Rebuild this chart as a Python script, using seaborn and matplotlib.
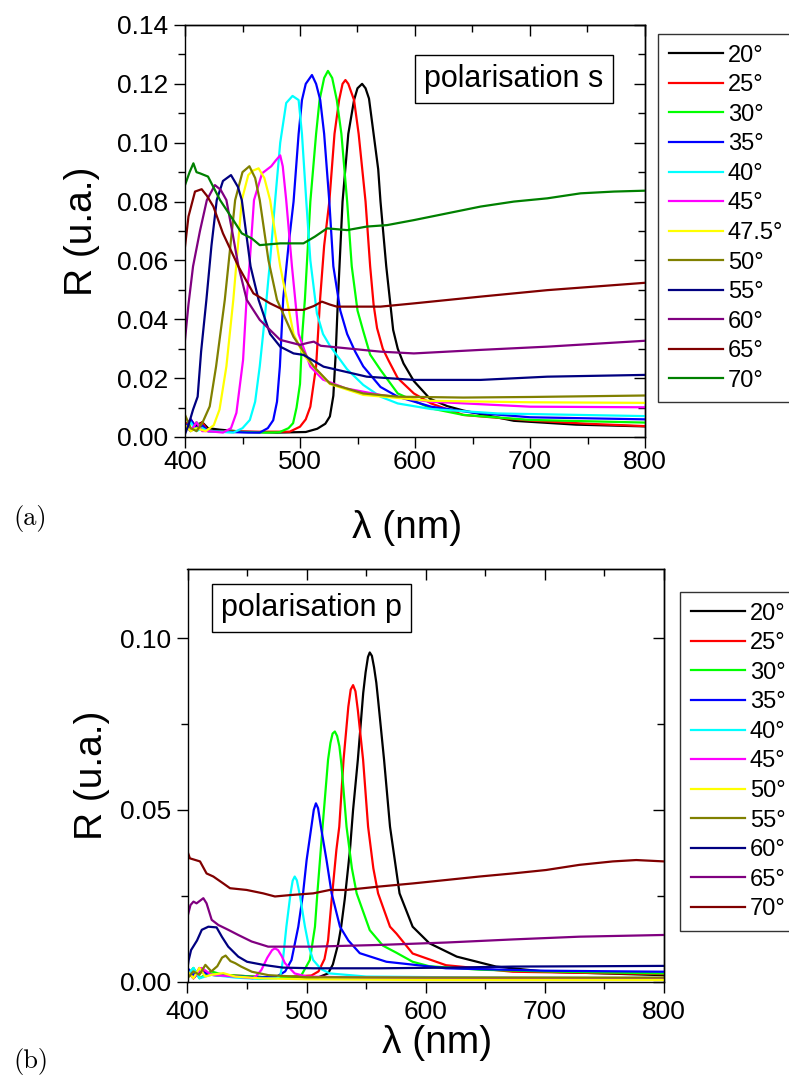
import matplotlib
matplotlib.use("Agg")
import matplotlib.pyplot as plt
import pandas as pd
import seaborn as sns
from matplotlib.ticker import MultipleLocator, FormatStrFormatter, NullFormatter

# ---------------- panel (a) : polarisation s ----------------
s_labels = ["20°", "25°", "30°", "35°", "40°", "45°", "47.5°", "50°", "55°", "60°", "65°", "70°"]
s_colors = ["#000000", "#ff0000", "#00ff00", "#0000ff", "#00ffff", "#ff00ff",
            "#ffff00", "#808000", "#000080", "#800080", "#800000", "#008000"]

s20_wl = [400, 405, 410, 415, 420, 430, 450, 480, 505, 515, 522, 526, 529, 531, 533, 537, 542, 547, 550, 554, 557, 560, 564, 568, 570, 575, 581, 585, 590, 599, 613, 628, 642, 686, 740, 800]
s20_R = [0.005, 0.002, 0.004, 0.005, 0.003, 0.0025, 0.0018, 0.0015, 0.0017, 0.0028, 0.0045, 0.007, 0.014, 0.028, 0.047, 0.080, 0.103, 0.1145, 0.1185, 0.120, 0.1185, 0.115, 0.103, 0.091, 0.080, 0.058, 0.0364, 0.030, 0.025, 0.019, 0.013, 0.0105, 0.009, 0.0055, 0.0042, 0.0036]

s25_wl = [400, 405, 410, 415, 420, 430, 460, 491, 500, 505, 509, 514, 517.5, 521, 525.5, 530, 534, 537, 539.5, 542, 547, 551, 557, 561, 564, 567, 572, 577, 585, 599, 614, 642, 700, 750, 800]
s25_R = [0.004, 0.006, 0.003, 0.005, 0.002, 0.002, 0.0018, 0.0018, 0.0035, 0.006, 0.0103, 0.024, 0.047, 0.065, 0.080, 0.103, 0.1145, 0.120, 0.1213, 0.120, 0.1145, 0.103, 0.080, 0.058, 0.045, 0.037, 0.030, 0.026, 0.020, 0.0148, 0.0114, 0.0075, 0.0056, 0.0045, 0.0037]

s30_wl = [400, 405, 410, 415, 420, 440, 470, 482, 490, 494, 497, 500, 502, 504.3, 509, 514, 517, 521, 524.3, 528, 532, 536, 541, 545, 550, 555, 561, 570, 585, 614, 642, 700, 800]
s30_R = [0.004, 0.002, 0.005, 0.003, 0.002, 0.0018, 0.0015, 0.0016, 0.003, 0.0047, 0.010, 0.018, 0.035, 0.047, 0.080, 0.103, 0.1145, 0.122, 0.1244, 0.122, 0.1145, 0.103, 0.080, 0.058, 0.043, 0.036, 0.028, 0.0228, 0.0148, 0.0097, 0.0075, 0.0058, 0.0049]

s35_wl = [400, 405, 410, 415, 420, 430, 455, 465, 472, 476.7, 480, 482.5, 485.4, 490, 494.4, 498.8, 501.7, 505, 510.4, 514, 517.6, 521, 525.5, 529, 535, 541, 548, 555, 570, 585, 614, 650, 700, 800]
s35_R = [0.003, 0.006, 0.003, 0.004, 0.002, 0.0018, 0.0015, 0.0015, 0.003, 0.0057, 0.012, 0.024, 0.047, 0.065, 0.080, 0.103, 0.1145, 0.120, 0.123, 0.120, 0.1145, 0.103, 0.080, 0.058, 0.043, 0.035, 0.029, 0.024, 0.017, 0.0137, 0.0103, 0.0083, 0.0067, 0.006]

s40_wl = [400, 405, 410, 415, 420, 442, 450, 456.4, 461, 465, 469.5, 474, 478.4, 482.8, 488, 493.5, 498.8, 501.7, 505.4, 509, 514.7, 520, 526, 541, 555, 570, 585, 614, 672, 800]
s40_R = [0.002, 0.005, 0.002, 0.003, 0.002, 0.0015, 0.003, 0.0058, 0.012, 0.024, 0.041, 0.060, 0.0805, 0.100, 0.1135, 0.1159, 0.1145, 0.103, 0.0805, 0.060, 0.042, 0.035, 0.031, 0.023, 0.0177, 0.0137, 0.0114, 0.0095, 0.008, 0.0071]

s45_wl = [400, 405, 410, 415, 420, 433, 440, 444.7, 450.5, 453.5, 456, 460, 467, 475, 479, 482.8, 485, 488, 493, 498.8, 509, 520, 540, 570, 613, 700, 800]
s45_R = [0.004, 0.002, 0.005, 0.002, 0.002, 0.0015, 0.003, 0.0082, 0.0262, 0.0466, 0.058, 0.0805, 0.0896, 0.092, 0.094, 0.0957, 0.092, 0.0805, 0.058, 0.035, 0.0239, 0.0195, 0.0165, 0.0143, 0.012, 0.0103, 0.0101]

s475_wl = [400, 405, 410, 418, 425, 430, 436, 442, 449.4, 455, 459, 464, 469, 474, 482.8, 494.4, 503, 511.8, 526, 555, 613, 700, 800]
s475_R = [0.004, 0.002, 0.003, 0.002, 0.004, 0.0093, 0.024, 0.0466, 0.0805, 0.089, 0.0905, 0.0913, 0.088, 0.0805, 0.058, 0.035, 0.028, 0.0239, 0.018, 0.0143, 0.0123, 0.0118, 0.0116]

s50_wl = [400, 405, 410, 415, 421.5, 427, 434.6, 443.6, 450, 456, 461, 465, 472.6, 480, 494.4, 511.8, 526, 555, 585, 642, 700, 800]
s50_R = [0.0075, 0.003, 0.002, 0.0047, 0.0104, 0.0239, 0.0466, 0.0805, 0.090, 0.092, 0.088, 0.0805, 0.060, 0.0466, 0.034, 0.024, 0.0182, 0.0148, 0.0137, 0.0134, 0.0136, 0.0141]

s55_wl = [400, 403, 407, 411, 414, 418.6, 423, 427.6, 433, 440, 446, 449.4, 457, 464, 474, 482.8, 494.4, 503, 520.5, 558, 599, 657, 715, 800]
s55_R = [0.001, 0.004, 0.0093, 0.0137, 0.029, 0.0466, 0.065, 0.0805, 0.087, 0.089, 0.085, 0.0805, 0.058, 0.0466, 0.035, 0.0307, 0.0284, 0.0279, 0.0239, 0.0205, 0.0194, 0.0194, 0.0205, 0.0211]

s60_wl = [400, 403, 407, 413, 419, 426, 431, 436, 441, 446.5, 453.7, 465, 482.8, 500, 507, 512, 518, 526, 570, 599, 657, 715, 800]
s60_R = [0.033, 0.045, 0.058, 0.070, 0.0805, 0.0856, 0.084, 0.0805, 0.070, 0.058, 0.0466, 0.0398, 0.033, 0.0313, 0.032, 0.0324, 0.031, 0.0307, 0.029, 0.0284, 0.0296, 0.0307, 0.0327]

s65_wl = [400, 403, 408.7, 414.5, 419, 424.7, 433, 446.5, 459.5, 474, 485.7, 503, 512, 519, 526, 532, 570, 599, 657, 715, 800]
s65_R = [0.0647, 0.0749, 0.0834, 0.0842, 0.082, 0.0783, 0.0692, 0.0579, 0.0488, 0.0454, 0.0432, 0.0432, 0.0445, 0.046, 0.045, 0.0443, 0.0443, 0.0454, 0.0477, 0.0499, 0.0524]

s70_wl = [400, 404, 407.3, 410, 413, 420, 430.5, 442, 449.4, 458, 465, 482.8, 503, 513, 523.5, 541, 558, 575.7, 599, 628, 657, 686, 715, 744, 773, 800]
s70_R = [0.0856, 0.090, 0.093, 0.090, 0.0896, 0.0885, 0.0805, 0.0737, 0.0692, 0.0675, 0.0652, 0.0658, 0.0658, 0.0681, 0.0709, 0.0703, 0.0715, 0.072, 0.0737, 0.076, 0.0783, 0.080, 0.0811, 0.0828, 0.0834, 0.0837]

# ---------------- panel (b) : polarisation p ----------------
p_labels = ["20°", "25°", "30°", "35°", "40°", "45°", "50°", "55°", "60°", "65°", "70°"]
p_colors = ["#000000", "#ff0000", "#00ff00", "#0000ff", "#00ffff", "#ff00ff",
            "#ffff00", "#808000", "#000080", "#800080", "#800000"]

p20_wl = [400, 405, 410, 420, 440, 480, 510, 518, 522, 526.5, 529, 532, 536.3, 539, 543, 547.5, 549.5, 551.5, 553, 554.8, 556.6, 558.5, 560, 565, 570, 578, 589, 603, 626, 659, 701, 800]
p20_R = [0.003, 0.001, 0.003, 0.002, 0.0015, 0.0012, 0.0013, 0.0024, 0.005, 0.011, 0.016, 0.024, 0.038, 0.050, 0.0646, 0.084, 0.090, 0.0945, 0.0958, 0.0948, 0.0915, 0.087, 0.082, 0.0646, 0.0451, 0.0257, 0.016, 0.0112, 0.0073, 0.0044, 0.0029, 0.0019]

p25_wl = [400, 405, 410, 420, 430, 470, 504, 510, 515, 518, 521, 525, 527.4, 531, 535, 537, 539, 541, 543, 547.4, 551.6, 556, 560, 564, 570, 575.4, 589, 617, 673, 785, 800]
p25_R = [0.003, 0.001, 0.004, 0.002, 0.002, 0.0012, 0.0018, 0.003, 0.0066, 0.012, 0.0238, 0.0384, 0.0451, 0.0646, 0.080, 0.085, 0.0863, 0.0845, 0.0790, 0.0646, 0.0451, 0.033, 0.0257, 0.0218, 0.016, 0.014, 0.0082, 0.0048, 0.0029, 0.0023, 0.0022]

p30_wl = [400, 405, 410, 420, 430, 470, 495, 502.7, 507, 509, 513.4, 518, 520, 521.8, 523.7, 525.6, 527.5, 529.3, 533.5, 538, 542, 553, 564, 575, 589, 603, 645, 700, 800]
p30_R = [0.002, 0.004, 0.001, 0.003, 0.002, 0.0012, 0.0015, 0.0063, 0.016, 0.0257, 0.0451, 0.0646, 0.0695, 0.0722, 0.0728, 0.0715, 0.0685, 0.0630, 0.0451, 0.033, 0.0257, 0.015, 0.0105, 0.0085, 0.0058, 0.0045, 0.0035, 0.003, 0.0024]

p35_wl = [400, 405, 410, 420, 460, 475, 482, 487.3, 493, 497, 500, 504, 506, 507.8, 509.6, 512.5, 516.7, 521, 528, 535, 544.6, 567, 617, 700, 800]
p35_R = [0.004, 0.002, 0.003, 0.002, 0.0012, 0.0015, 0.003, 0.0063, 0.016, 0.0257, 0.0354, 0.0451, 0.0500, 0.0519, 0.0505, 0.0440, 0.0354, 0.0257, 0.016, 0.012, 0.0083, 0.0058, 0.0039, 0.0032, 0.0029]

p40_wl = [400, 405, 410, 420, 440, 460, 475, 478, 480, 483, 486.5, 488.3, 490, 491.8, 494.4, 498.6, 502, 505.5, 512, 519.5, 550, 650, 800]
p40_R = [0.002, 0.004, 0.001, 0.002, 0.0012, 0.0008, 0.001, 0.0018, 0.006, 0.016, 0.0257, 0.0294, 0.0306, 0.0295, 0.0250, 0.016, 0.010, 0.0063, 0.0037, 0.0024, 0.0015, 0.0012, 0.001]

p45_wl = [400, 405, 412, 420, 440, 455, 458, 462, 467, 471, 473.4, 476, 479, 481.8, 490, 500, 550, 800]
p45_R = [0.003, 0.001, 0.004, 0.002, 0.0015, 0.001, 0.0018, 0.0034, 0.007, 0.0092, 0.0097, 0.0092, 0.0075, 0.0054, 0.0024, 0.0015, 0.0012, 0.001]

p50_wl = [400, 405, 410, 415, 420, 430, 440, 460, 500, 600, 800]
p50_R = [0.003, 0.001, 0.004, 0.0015, 0.002, 0.0025, 0.0015, 0.001, 0.0007, 0.0005, 0.0005]

p55_wl = [400, 405, 410, 415, 420, 425, 429, 432, 436, 440, 445, 454, 468, 500, 600, 800]
p55_R = [0.001, 0.003, 0.002, 0.0049, 0.003, 0.0045, 0.007, 0.0076, 0.006, 0.0054, 0.0044, 0.0029, 0.0019, 0.0013, 0.0012, 0.0012]

p60_wl = [400, 401, 403, 408, 412, 417.5, 424.4, 429, 434.2, 442.6, 450, 463.6, 480, 505.5, 561, 620, 673, 740, 800]
p60_R = [0.004, 0.0063, 0.0092, 0.012, 0.0151, 0.016, 0.0158, 0.013, 0.0102, 0.0073, 0.0058, 0.0049, 0.0041, 0.0039, 0.0039, 0.0041, 0.0044, 0.0045, 0.0046]

p65_wl = [400, 402.5, 405, 407.6, 413.3, 416, 420.3, 425.9, 434.2, 442.6, 453.8, 467.7, 481.7, 505.5, 561.4, 617.3, 673, 729, 800]
p65_R = [0.0189, 0.0223, 0.0233, 0.0228, 0.0243, 0.0228, 0.018, 0.0165, 0.0151, 0.0136, 0.0117, 0.0102, 0.0102, 0.0102, 0.0107, 0.0114, 0.0123, 0.0131, 0.0136]

p70_wl = [400, 402, 410.5, 416, 421.7, 430, 435.7, 449.6, 463.6, 473.4, 486, 505.5, 519.5, 533.5, 561.4, 589.4, 617.3, 645, 673, 701, 729, 757, 776.7, 800]
p70_R = [0.0379, 0.0359, 0.035, 0.0315, 0.0306, 0.0286, 0.0272, 0.0267, 0.0257, 0.0248, 0.0252, 0.0257, 0.0267, 0.0267, 0.0277, 0.0286, 0.0296, 0.0306, 0.0315, 0.0325, 0.034, 0.035, 0.0354, 0.035]


def long_frame(labels, wls, rs):
    parts = [pd.DataFrame({"wl": w, "R": r, "angle": lab}) for lab, w, r in zip(labels, wls, rs)]
    return pd.concat(parts, ignore_index=True)


df_s = long_frame(s_labels,
                  [s20_wl, s25_wl, s30_wl, s35_wl, s40_wl, s45_wl, s475_wl, s50_wl, s55_wl, s60_wl, s65_wl, s70_wl],
                  [s20_R, s25_R, s30_R, s35_R, s40_R, s45_R, s475_R, s50_R, s55_R, s60_R, s65_R, s70_R])
df_p = long_frame(p_labels,
                  [p20_wl, p25_wl, p30_wl, p35_wl, p40_wl, p45_wl, p50_wl, p55_wl, p60_wl, p65_wl, p70_wl],
                  [p20_R, p25_R, p30_R, p35_R, p40_R, p45_R, p50_R, p55_R, p60_R, p65_R, p70_R])

plt.rcParams["font.family"] = ["Liberation Sans", "DejaVu Sans"]
plt.rcParams["axes.linewidth"] = 1.0

W, H = 789, 1077
fig = plt.figure(figsize=(W / 100, H / 100), dpi=100)
ax1 = fig.add_axes([185 / W, 1 - 437 / H, 460 / W, 412 / H])
ax2 = fig.add_axes([187.5 / W, 1 - 981.7 / H, 476.5 / W, 412.4 / H])

sns.lineplot(data=df_s, x="wl", y="R", hue="angle", hue_order=s_labels,
             palette=dict(zip(s_labels, s_colors)), estimator=None, sort=True,
             linewidth=1.6, ax=ax1)
sns.lineplot(data=df_p, x="wl", y="R", hue="angle", hue_order=p_labels,
             palette=dict(zip(p_labels, p_colors)), estimator=None, sort=True,
             linewidth=1.6, ax=ax2)


def style_axes(ax, ymax, ymaj, ymin, xlab_pad, ylab_x, xlab_xy):
    ax.set_xlim(400, 800)
    ax.set_ylim(0, ymax)
    ax.xaxis.set_major_locator(MultipleLocator(100))
    ax.xaxis.set_minor_locator(MultipleLocator(50))
    ax.yaxis.set_major_locator(MultipleLocator(ymaj))
    ax.yaxis.set_minor_locator(MultipleLocator(ymin))
    ax.yaxis.set_major_formatter(FormatStrFormatter("%.2f"))
    ax.tick_params(which="both", direction="out", width=1, colors="black",
                   labelsize=19, top=False, right=False)
    ax.tick_params(which="major", length=8)
    ax.tick_params(which="minor", length=5)
    ax.tick_params(axis="y", pad=4)
    ax.tick_params(axis="x", pad=xlab_pad)
    for sp in ax.spines.values():
        sp.set_visible(True)
        sp.set_color("black")
        sp.set_linewidth(1.0)
    sx = ax.secondary_xaxis("top")
    sx.xaxis.set_major_locator(MultipleLocator(100))
    sx.xaxis.set_minor_locator(MultipleLocator(50))
    sx.xaxis.set_major_formatter(NullFormatter())
    sx.tick_params(which="both", direction="in", width=1)
    sx.tick_params(which="major", length=8)
    sx.tick_params(which="minor", length=5)
    sy = ax.secondary_yaxis("right")
    sy.yaxis.set_major_locator(MultipleLocator(ymaj))
    sy.yaxis.set_minor_locator(MultipleLocator(ymin))
    sy.yaxis.set_major_formatter(NullFormatter())
    sy.tick_params(which="both", direction="in", width=1)
    sy.tick_params(which="major", length=8)
    sy.tick_params(which="minor", length=5)
    ax.set_xlabel("λ (nm)", fontsize=28)
    ax.set_ylabel("R (u.a.)", fontsize=28)
    ax.yaxis.set_label_coords(ylab_x, 0.5)
    ax.xaxis.set_label_coords(*xlab_xy)


style_axes(ax1, 0.14, 0.02, 0.01, 1.5, -0.185, (0.483, -0.177))
style_axes(ax2, 0.12, 0.05, 0.025, 5, -0.163, (0.523, -0.106))


def make_legend(ax, x, y):
    h, l = ax.get_legend_handles_labels()
    leg = ax.legend(h, l, loc="upper left", bbox_to_anchor=(x / W, 1 - y / H),
                    bbox_transform=fig.transFigure, frameon=True, fancybox=False,
                    framealpha=1, edgecolor="#333333", fontsize=17,
                    handlelength=2.3, handletextpad=0.2, labelspacing=0.32,
                    borderpad=0.45, borderaxespad=0)
    leg.get_frame().set_linewidth(1.0)
    for line in leg.get_lines():
        line.set_linewidth(1.6)
    return leg


make_legend(ax1, 658, 34)
make_legend(ax2, 680, 592)

box = dict(boxstyle="square,pad=0.3", fc="white", ec="black", lw=1)
ax1.text(0.715, 0.869, "polarisation s", transform=ax1.transAxes, ha="center",
         va="center", fontsize=22, bbox=box)
ax2.text(0.261, 0.9055, "polarisation p", transform=ax2.transAxes, ha="center",
         va="center", fontsize=22, bbox=box)

fig.text(13 / W, 1 - 532 / H, "(a)", family=["cmr10", "DejaVu Serif"], fontsize=19, va="bottom")
fig.text(13 / W, 1 - 1075 / H, "(b)", family=["cmr10", "DejaVu Serif"], fontsize=19, va="bottom")

fig.savefig("out.png", dpi=100)
